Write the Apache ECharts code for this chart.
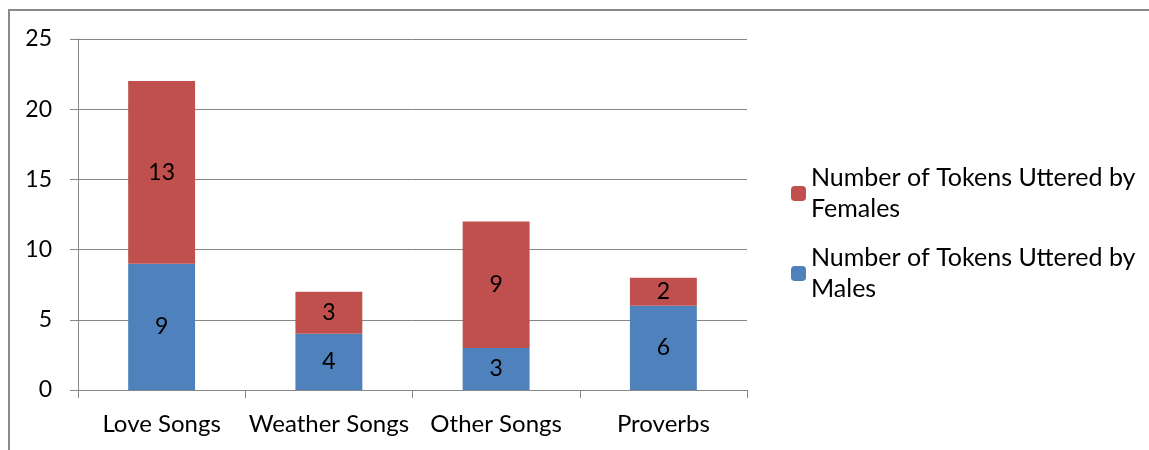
<!DOCTYPE html>
<html>
<head>
<meta charset="utf-8">
<script src="https://cdn.jsdelivr.net/npm/echarts@6/dist/echarts.min.js"></script>
<style>
  html, body { margin: 0; padding: 0; background: #fff; }
  #chart { width: 1149px; height: 450px; }
</style>
</head>
<body>
<div id="chart"></div>
<script>
// data
const categories = ["Love Songs", "Weather Songs", "Other Songs", "Proverbs"];
const males = [9, 4, 3, 6];
const females = [13, 3, 9, 2];
const yTicks = [0, 5, 10, 15, 20, 25];

const fontFamily = "Lato, 'Open Sans', sans-serif";
const gridColor = "#868686";

let chart = echarts.init(document.getElementById("chart"));

let option = {
  animation: false,
  textStyle: { fontFamily: fontFamily },
  graphic: [
    {
      type: "rect",
      shape: { x: 9, y: 10, width: 1200, height: 500 },
      style: { fill: "none", stroke: "#8a8a8a", lineWidth: 2 },
      silent: true
    }
  ],
  grid: { left: 78, right: 402, top: 39, bottom: 60 },
  legend: {
    orient: "vertical",
    left: 786,
    top: 142,
    itemWidth: 15,
    itemHeight: 15,
    itemGap: -13,
    data: ["Number of Tokens Uttered by Females", "Number of Tokens Uttered by Males"],
    formatter: function (name) {
      return name.replace(" by ", " by\n");
    },
    textStyle: {
      fontSize: 25,
      color: "#000",
      lineHeight: 31,
      padding: [31, 0, 0, 0]
    }
  },
  xAxis: {
    type: "category",
    data: categories,
    axisLine: { lineStyle: { color: gridColor, width: 1 } },
    axisTick: { show: true, length: 8, lineStyle: { color: gridColor } },
    axisLabel: { color: "#000", fontSize: 24, margin: 22, interval: 0 }
  },
  yAxis: {
    type: "value",
    min: yTicks[0],
    max: yTicks[yTicks.length - 1],
    interval: 5,
    axisLine: { show: true, lineStyle: { color: gridColor } },
    axisTick: { show: true, length: 8, lineStyle: { color: gridColor } },
    axisLabel: { color: "#000", fontSize: 23, margin: 26 },
    splitLine: { lineStyle: { color: gridColor } }
  },
  series: [
    {
      name: "Number of Tokens Uttered by Males",
      type: "bar",
      stack: "tokens",
      data: males,
      barWidth: "40%",
      itemStyle: { color: "#4F81BD" },
      label: { show: true, position: "inside", color: "#000", fontSize: 23 }
    },
    {
      name: "Number of Tokens Uttered by Females",
      type: "bar",
      stack: "tokens",
      data: females,
      barWidth: "40%",
      itemStyle: { color: "#C0504D" },
      label: { show: true, position: "inside", color: "#000", fontSize: 23 }
    }
  ]
};

chart.setOption(option);
</script>
</body>
</html>
